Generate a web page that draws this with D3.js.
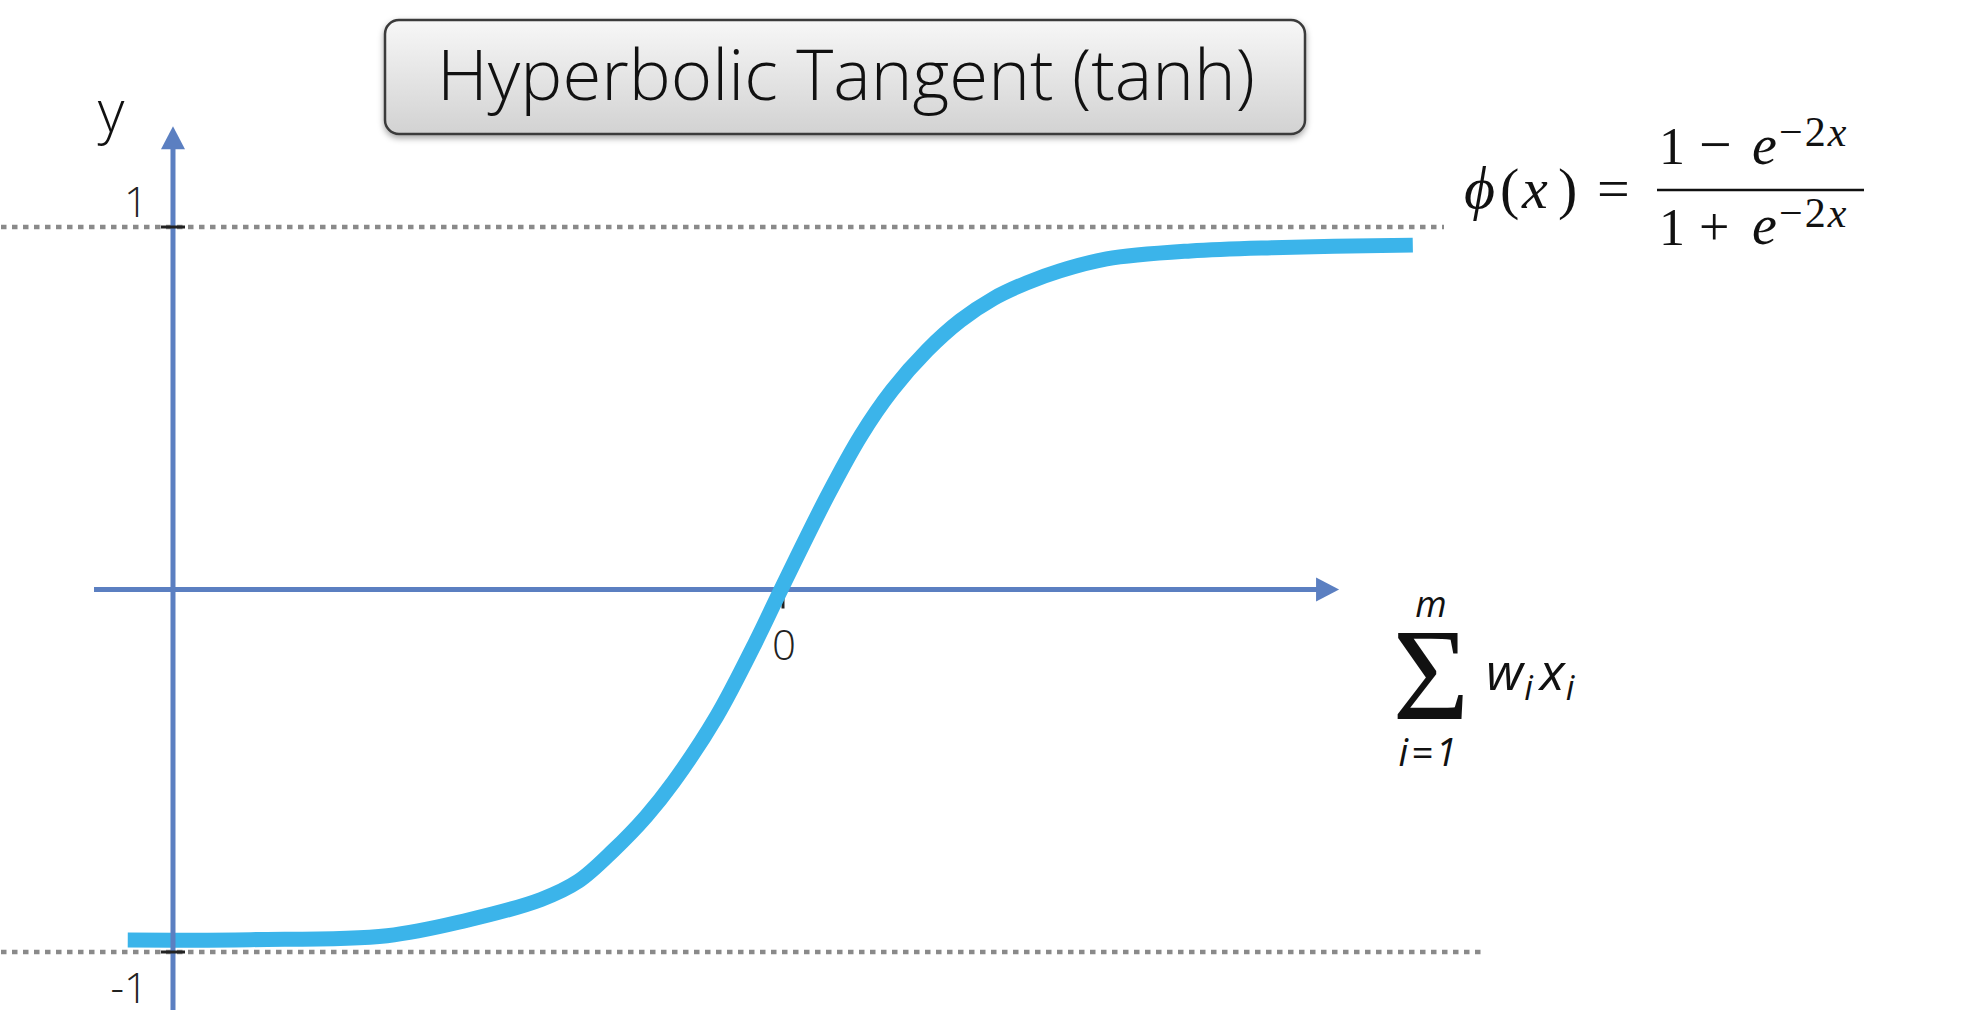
<!DOCTYPE html>
<html><head><meta charset="utf-8">
<script src="https://cdn.jsdelivr.net/npm/d3@7"></script>
<style>body{margin:0;background:#fff;} svg{display:block}</style>
</head><body><svg id="c" width="1964" height="1036"></svg>
<script>
// ---- data ----
const curveX = [-3.35, -2.72, -2.02, -1.63, -1.23, -1.04, -0.86, -0.69, -0.55, -0.33, -0.13, 0, 0.24, 0.41, 0.57, 0.75, 0.92, 1.09, 1.26, 1.43, 1.67, 2.10, 2.52, 3.24];
const curveY = [-0.967, -0.966, -0.955, -0.915, -0.855, -0.805, -0.72, -0.625, -0.53, -0.35, -0.145, 0, 0.26, 0.425, 0.55, 0.66, 0.742, 0.803, 0.846, 0.879, 0.912, 0.934, 0.943, 0.950];
const yTickValues = [1, -1];
const yTickLabels = ["1", "-1"];
const xTickValues = [0];
const xTickLabels = ["0"];
const guideLevels = [1, -1];
const guideStartX = [-4.0, -4.0];
const guideEndX = [3.40, 3.61];
const yAxisAtX = -3.118;
const yAxisExtent = [-1.16, 1.278];
const xAxisExtent = [-3.523, 2.862];
const titleText = "Hyperbolic Tangent (tanh)";
const yAxisLabel = "y";

// ---- layout ----
const svg = d3.select("#c");
const x = d3.scaleLinear().domain([-4, 3.6]).range([1, 1483]);
const y = d3.scaleLinear().domain([-1, 1]).range([952, 227]);
const axisColor = "#5b7fc1";
const curveColor = "#3bb4ea";
const labelFont = "'Open Sans', 'Noto Sans', sans-serif";

// dotted guide lines
svg.append("g").selectAll("line").data(guideLevels).join("line")
  .attr("x1", (d, i) => x(guideStartX[i])).attr("x2", (d, i) => x(guideEndX[i]))
  .attr("y1", d => y(d)).attr("y2", d => y(d))
  .attr("stroke", "#8a8a8a").attr("stroke-width", 4.5).attr("stroke-dasharray", "5.5,5.5");

// x axis (arrow)
const y0 = y(0);
const ax = svg.append("g");
ax.append("line").attr("x1", x(xAxisExtent[0])).attr("x2", x(xAxisExtent[1]) - 18)
  .attr("y1", y0).attr("y2", y0).attr("stroke", axisColor).attr("stroke-width", 5);
const xt = x(xAxisExtent[1]);
ax.append("path").attr("d", `M${xt},${y0} L${xt-23},${y0-12} L${xt-23},${y0+12} Z`).attr("fill", axisColor);

// x tick at 0
svg.append("g").selectAll("line").data(xTickValues).join("line")
  .attr("x1", d => x(d) + 2).attr("x2", d => x(d) + 2)
  .attr("y1", y0 + 2).attr("y2", y0 + 19).attr("stroke", "#222").attr("stroke-width", 3);
svg.append("g").selectAll("text").data(xTickValues).join("text")
  .attr("x", d => x(d) + 3).attr("y", y0 + 70).attr("text-anchor", "middle")
  .attr("font-family", labelFont).attr("font-size", 42).attr("font-weight", 300).attr("fill", "#222")
  .text((d, i) => xTickLabels[i]);

// curve
const line = d3.line().x(d => x(d[0])).y(d => y(d[1])).curve(d3.curveCatmullRom.alpha(0.5));
svg.append("path").datum(curveX.map((v, i) => [v, curveY[i]]))
  .attr("d", line).attr("fill", "none").attr("stroke", curveColor)
  .attr("stroke-width", 15).attr("stroke-linecap", "butt").attr("stroke-linejoin", "round");

// y axis (arrow)
const ya = x(yAxisAtX);
const yTop = y(yAxisExtent[1]);
svg.append("line").attr("x1", ya).attr("x2", ya).attr("y1", y(yAxisExtent[0])).attr("y2", yTop + 18)
  .attr("stroke", axisColor).attr("stroke-width", 5);
svg.append("path").attr("d", `M${ya},${yTop} L${ya-12},${yTop+23} L${ya+12},${yTop+23} Z`).attr("fill", axisColor);

// y ticks
svg.append("g").selectAll("line").data(yTickValues).join("line")
  .attr("x1", ya - 12).attr("x2", ya + 12).attr("y1", d => y(d)).attr("y2", d => y(d))
  .attr("stroke", "#222").attr("stroke-width", 3);
svg.append("g").selectAll("text").data(yTickValues).join("text")
  .attr("x", ya - 25).attr("y", d => d > 0 ? y(d) - 10 : y(d) + 51).attr("text-anchor", "end")
  .attr("font-family", labelFont).attr("font-size", 42).attr("font-weight", 300).attr("fill", "#222")
  .text((d, i) => yTickLabels[i]);

// y label
svg.append("text").attr("x", 111).attr("y", 132).attr("text-anchor", "middle")
  .attr("font-family", labelFont).attr("font-size", 58).attr("font-weight", 300).attr("fill", "#111")
  .text(yAxisLabel);

// title box
const defs = svg.append("defs");
const g = defs.append("linearGradient").attr("id", "tg").attr("x1", 0).attr("y1", 0).attr("x2", 0).attr("y2", 1);
g.append("stop").attr("offset", "0%").attr("stop-color", "#f7f7f7");
g.append("stop").attr("offset", "100%").attr("stop-color", "#d2d2d2");
const f = defs.append("filter").attr("id", "sh").attr("x", "-5%").attr("y", "-20%").attr("width", "110%").attr("height", "150%");
f.append("feDropShadow").attr("dx", 0).attr("dy", 3).attr("stdDeviation", 3).attr("flood-color", "#000").attr("flood-opacity", 0.35);
svg.append("rect").attr("x", 385).attr("y", 20).attr("width", 920).attr("height", 114).attr("rx", 14)
  .attr("fill", "url(#tg)").attr("stroke", "#3a3a3a").attr("stroke-width", 2.5).attr("filter", "url(#sh)");
svg.append("text").attr("x", 846).attr("y", 100).attr("text-anchor", "middle")
  .attr("font-family", labelFont).attr("font-size", 70).attr("font-weight", 350).attr("fill", "#111")
  .attr("textLength", 818).attr("lengthAdjust", "spacingAndGlyphs")
  .text(titleText);

// formula phi(x) = (1 - e^-2x)/(1 + e^-2x)
const mf = svg.append("g").attr("font-family", "'Liberation Serif', 'DejaVu Serif', serif").attr("fill", "#111");
function put(t, px, py, size, italic) {
  return mf.append("text").attr("x", px).attr("y", py).attr("font-size", size)
    .attr("font-style", italic ? "italic" : "normal").text(t);
}
function sup(px, py) {
  const t = mf.append("text").attr("x", px).attr("y", py).attr("font-size", 42).attr("letter-spacing", 2);
  t.append("tspan").text("−2");
  t.append("tspan").attr("font-style", "italic").text("x");
}
put("ϕ", 1464, 208, 60, true);
put("(", 1500, 208, 58, false);
put("x", 1522, 208, 58, true);
put(")", 1558, 208, 58, false);
put("=", 1597, 208, 58, false);
mf.append("line").attr("x1", 1657).attr("x2", 1864).attr("y1", 190).attr("y2", 190).attr("stroke", "#111").attr("stroke-width", 2.5);
put("1", 1659, 164, 52, false);
put("−", 1699, 164, 58, false);
put("e", 1752, 164, 56, true);
sup(1779, 146);
put("1", 1659, 245, 52, false);
put("+", 1699, 245, 54, false);
put("e", 1752, 244, 56, true);
sup(1779, 227);

// sum label
const sf = svg.append("g").attr("fill", "#111").attr("font-family", "'Open Sans', 'Noto Sans', sans-serif");
sf.append("text").attr("x", 1431).attr("y", 617).attr("text-anchor", "middle").attr("font-size", 36).attr("font-style", "italic").text("m");
sf.append("text").attr("x", 1431).attr("y", 719).attr("text-anchor", "middle").attr("font-size", 132)
  .attr("font-family", "'Liberation Serif', serif").text("Σ");
sf.append("text").attr("x", 1429).attr("y", 766).attr("text-anchor", "middle").attr("font-size", 38).attr("font-style", "italic").attr("letter-spacing", 3).text("i=1");
const wx = sf.append("text").attr("x", 1486).attr("y", 690).attr("font-size", 52).attr("font-style", "italic");
wx.append("tspan").text("w");
wx.append("tspan").attr("font-size", 34).attr("dy", 10).attr("dx", 1).text("i");
wx.append("tspan").attr("dy", -10).attr("dx", 7).text("x");
wx.append("tspan").attr("font-size", 34).attr("dy", 10).attr("dx", 1).text("i");
</script></body></html>
